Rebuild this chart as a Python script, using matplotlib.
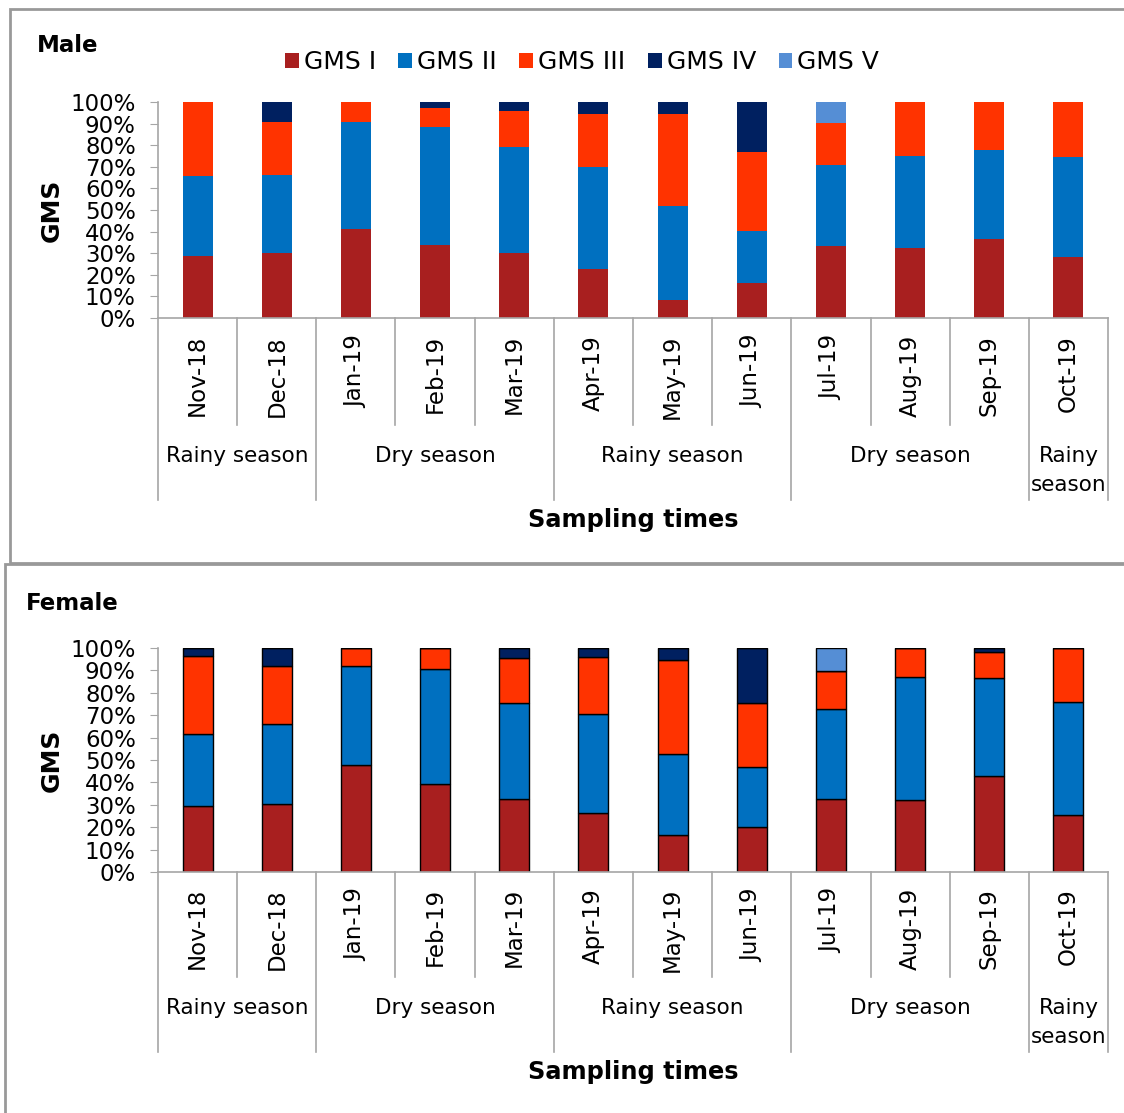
import numpy as np
import matplotlib
matplotlib.use("Agg")
import matplotlib.pyplot as plt
from matplotlib.patches import Rectangle
from matplotlib.lines import Line2D
from matplotlib.transforms import blended_transform_factory

months = ["Nov-18", "Dec-18", "Jan-19", "Feb-19", "Mar-19", "Apr-19",
          "May-19", "Jun-19", "Jul-19", "Aug-19", "Sep-19", "Oct-19"]
stages = ["GMS I", "GMS II", "GMS III", "GMS IV", "GMS V"]
colors = ["#A81F1F", "#0070C0", "#FF3300", "#002060", "#558ED5"]

# seasons: (first month index, last month index + 1, label)
seasons = [(0, 2, "Rainy season"), (2, 5, "Dry season"), (5, 8, "Rainy season"),
           (8, 11, "Dry season"), (11, 12, "Rainy\nseason")]

# percent of each stage per month
male_I   = [28.8, 30.3, 41.0, 33.9, 29.9, 22.9, 8.5, 16.0, 33.4, 32.2, 36.8, 28.2]
male_II  = [37.1, 36.1, 49.8, 54.5, 49.3, 46.9, 43.4, 24.4, 37.6, 43.0, 41.1, 46.4]
male_III = [34.1, 24.4, 9.2, 8.8, 16.6, 24.5, 42.4, 36.3, 19.1, 24.8, 22.1, 25.4]
male_IV  = [0, 9.2, 0, 2.8, 4.2, 5.7, 5.7, 23.3, 0, 0, 0, 0]
male_V   = [0, 0, 0, 0, 0, 0, 0, 0, 9.9, 0, 0, 0]

female_I   = [29.5, 30.5, 47.8, 39.4, 32.7, 26.5, 16.5, 19.9, 32.7, 32.3, 42.7, 25.6]
female_II  = [32.1, 35.6, 44.3, 51.1, 42.7, 43.9, 36.3, 26.8, 39.9, 54.9, 43.9, 50.4]
female_III = [34.8, 25.9, 7.9, 9.5, 20.0, 25.6, 42.0, 28.7, 17.3, 12.8, 11.8, 24.0]
female_IV  = [3.6, 8.0, 0, 0, 4.6, 4.0, 5.2, 24.6, 0, 0, 1.6, 0]
female_V   = [0, 0, 0, 0, 0, 0, 0, 0, 10.1, 0, 0, 0]

W, H = 1124, 1113
fig = plt.figure(figsize=(W / 100, H / 100), dpi=100)
plt.rcParams["font.family"] = "DejaVu Sans"

def fx(px):
    return px / W

def fy(py):
    return 1 - py / H

grid = "#A6A6A6"

def panel(top, bottom, series, edge, sep1, sep2, mlab, slab, xlab):
    ax = fig.add_axes([fx(158), fy(bottom), fx(1108) - fx(158), fy(top) - fy(bottom)])
    x = np.arange(len(months))
    base = np.zeros(len(months))
    for vals, c, name in zip(series, colors, stages):
        v = np.array(vals, dtype=float)
        if edge:
            ax.bar(x, v, 0.38, bottom=base, color=c, edgecolor="black", linewidth=1.0, label=name)
        else:
            ax.bar(x, v, 0.38, bottom=base, color=c, linewidth=0, label=name)
        base += v
    ax.set_xlim(-0.5, len(months) - 0.5)
    ax.set_ylim(0, 100)
    ax.set_yticks(np.arange(0, 101, 10))
    ax.set_yticklabels([f"{t}%" for t in range(0, 101, 10)], fontsize=16.5)
    ax.tick_params(axis="y", length=6, color=grid, pad=10)
    ax.set_xticks([])
    for s in ["top", "right"]:
        ax.spines[s].set_visible(False)
    for s in ["left", "bottom"]:
        ax.spines[s].set_color(grid)
        ax.spines[s].set_linewidth(1.2)

    tr = blended_transform_factory(ax.transData, fig.transFigure)
    starts = {s[0] for s in seasons} | {seasons[-1][1]}
    for b in range(len(months) + 1):
        yend = sep2 if b in starts else sep1
        ax.add_line(Line2D([b - 0.5, b - 0.5], [fy(bottom), fy(yend)], transform=tr,
                           color=grid, lw=1.2, clip_on=False))
    for i, m in enumerate(months):
        ax.text(i, fy(mlab), m, transform=tr, rotation=90, ha="center", va="top", fontsize=16.5)
    for a, b, name in seasons:
        for k, line in enumerate(name.split("\n")):
            ax.text((a + b - 1) / 2, fy(slab + 29 * k), line, transform=tr, ha="center",
                    va="center", fontsize=15.5)
    fig.text(fx(633), fy(xlab), "Sampling times", ha="center", va="center",
             fontsize=17.3, fontweight="bold")
    fig.text(fx(52), fy((top + bottom) / 2), "GMS", rotation=90, ha="center", va="center",
             fontsize=18, fontweight="bold")
    return ax

male = [male_I, male_II, male_III, male_IV, male_V]
female = [female_I, female_II, female_III, female_IV, female_V]

ax1 = panel(102, 318, male, False, 425, 500, 335, 456, 520)
ax2 = panel(648, 872, female, True, 977, 1052, 888, 1008, 1072)

fig.text(fx(37), fy(45), "Male", ha="left", va="center", fontsize=16.5, fontweight="bold")
fig.text(fx(26), fy(603), "Female", ha="left", va="center", fontsize=16.5, fontweight="bold")

handles, labels = ax1.get_legend_handles_labels()
fig.legend(handles, labels, loc="center", bbox_to_anchor=(fx(582), fy(62)), ncol=5,
           frameon=False, fontsize=18, handlelength=0.55, handleheight=0.55,
           handletextpad=0.2, columnspacing=0.9)

# panel frames
fig.add_artist(Rectangle((fx(10), fy(563)), fx(1200) - fx(10), fy(9) - fy(563),
                         transform=fig.transFigure, fill=False, edgecolor="#999999", lw=2))
fig.add_artist(Rectangle((fx(5), fy(1200)), fx(1200) - fx(5), fy(564) - fy(1200),
                         transform=fig.transFigure, fill=False, edgecolor="#999999", lw=2))

fig.savefig("out.png", dpi=100, facecolor="white")
